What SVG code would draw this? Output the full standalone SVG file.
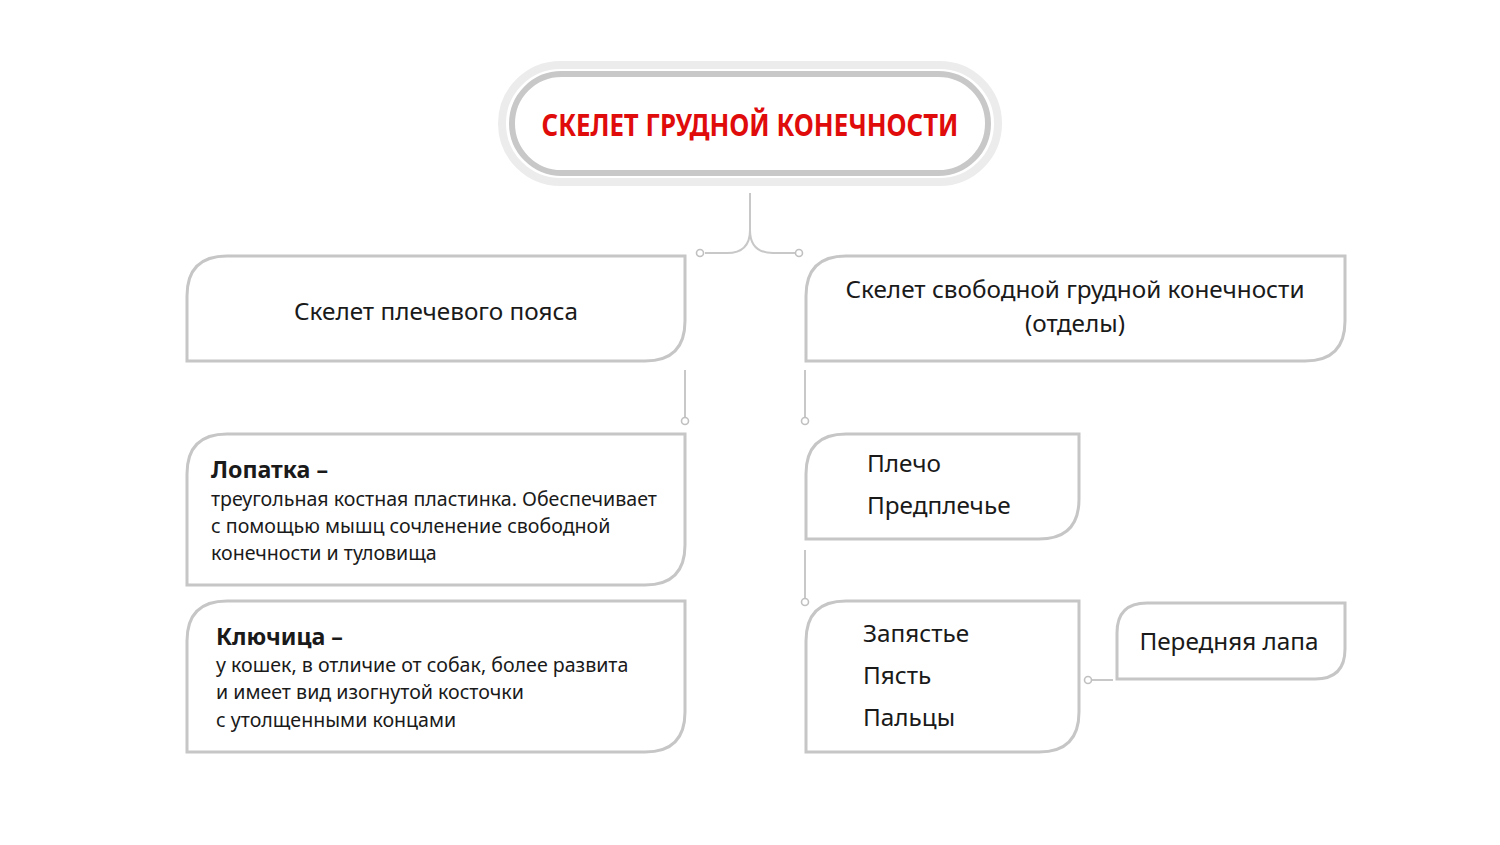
<svg xmlns="http://www.w3.org/2000/svg" width="1500" height="845" viewBox="0 0 1500 845">
<style>
.box{fill:#fff;stroke:#c6c6c6;stroke-width:3}
.ln{fill:none;stroke:#c8c8c8;stroke-width:2}
.dot{fill:#fff;stroke:#c0c0c0;stroke-width:1.6}
text{font-family:"Noto Sans","Open Sans",sans-serif;fill:#1a1a1a}
.t{font-size:24.3px}
.s{font-size:19.6px}
.b{font-size:23.2px;font-weight:bold}
.title{font-size:31px;font-weight:bold;fill:#e00c0c}
</style>
<rect width="1500" height="845" fill="#fff"/>
<g id="title">
<rect x="502" y="65" width="496" height="117" rx="58.5" fill="#fff" stroke="#ececec" stroke-width="8"/>
<rect x="512" y="74" width="476" height="99" rx="49.5" fill="#fff" stroke="#c8c8c8" stroke-width="6"/>
<text class="title" x="750" y="136" text-anchor="middle" textLength="417" lengthAdjust="spacingAndGlyphs">СКЕЛЕТ ГРУДНОЙ КОНЕЧНОСТИ</text>
</g>
<g id="connectors">
<path class="ln" d="M750 193 V230 Q750 253 727 253 H705 M750 230 Q750 253 773 253 H795"/>
<circle class="dot" cx="700" cy="253" r="3.5"/>
<circle class="dot" cx="799" cy="253" r="3.5"/>
<path class="ln" d="M685 370 V417 M805 370 V417 M805 550 V598 M1092 680 H1113"/>
<circle class="dot" cx="685" cy="421" r="3.5"/>
<circle class="dot" cx="805" cy="421" r="3.5"/>
<circle class="dot" cx="805" cy="602" r="3.5"/>
<circle class="dot" cx="1088" cy="680" r="3.5"/>
</g>
<g id="shoulder">
<path class="box" d="M187 361 V296 Q187 256 227 256 H685 V321 Q685 361 645 361 Z"/>
<text class="t" x="436" y="320" text-anchor="middle">Скелет плечевого пояса</text>
</g>
<g id="free">
<path class="box" d="M806 361 V296 Q806 256 846 256 H1345 V321 Q1345 361 1305 361 Z"/>
<text class="t" x="1075" y="298" text-anchor="middle">Скелет свободной грудной конечности</text>
<text class="t" x="1075" y="331.5" text-anchor="middle">(отделы)</text>
</g>
<g id="scapula">
<path class="box" d="M187 585 V474 Q187 434 227 434 H685 V545 Q685 585 645 585 Z"/>
<text class="b" x="211" y="478">Лопатка –</text>
<text class="s" x="211" y="506">треугольная костная пластинка. Обеспечивает</text>
<text class="s" x="211" y="533">с помощью мышц сочленение свободной</text>
<text class="s" x="211" y="560">конечности и туловища</text>
</g>
<g id="clavicle">
<path class="box" d="M187 752 V641 Q187 601 227 601 H685 V712 Q685 752 645 752 Z"/>
<text class="b" x="216" y="645">Ключица –</text>
<text class="s" x="216" y="672">у кошек, в отличие от собак, более развита</text>
<text class="s" x="216" y="699">и имеет вид изогнутой косточки</text>
<text class="s" x="216" y="727">с утолщенными концами</text>
</g>
<g id="arm">
<path class="box" d="M806 539 V474 Q806 434 846 434 H1079 V499 Q1079 539 1039 539 Z"/>
<text class="t" x="867" y="472">Плечо</text>
<text class="t" x="867" y="514">Предплечье</text>
</g>
<g id="hand">
<path class="box" d="M806 752 V641 Q806 601 846 601 H1079 V712 Q1079 752 1039 752 Z"/>
<text class="t" x="863" y="642">Запястье</text>
<text class="t" x="863" y="684">Пясть</text>
<text class="t" x="863" y="726">Пальцы</text>
</g>
<g id="paw">
<path class="box" d="M1117 679 V633 Q1117 603 1147 603 H1345 V649 Q1345 679 1315 679 Z"/>
<text class="t" x="1229" y="650" text-anchor="middle">Передняя лапа</text>
</g>
</svg>
